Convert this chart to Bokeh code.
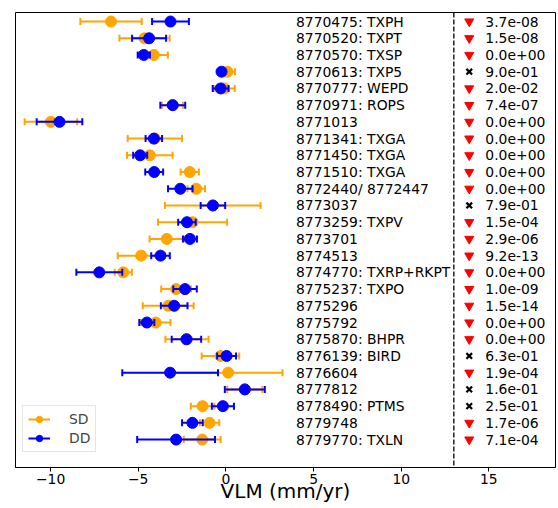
import numpy as np
from bokeh.plotting import figure
from bokeh.models import Range1d, FixedTicker, Span, Legend, LegendItem, ColumnDataSource
from bokeh.core.properties import value
from bokeh.embed import file_html
from bokeh.resources import INLINE

stations = ["8770475: TXPH", "8770520: TXPT", "8770570: TXSP", "8770613: TXP5",
            "8770777: WEPD", "8770971: ROPS", "8771013", "8771341: TXGA",
            "8771450: TXGA", "8771510: TXGA", "8772440/ 8772447", "8773037",
            "8773259: TXPV", "8773701", "8774513", "8774770: TXRP+RKPT",
            "8775237: TXPO", "8775296", "8775792", "8775870: BHPR",
            "8776139: BIRD", "8776604", "8777812", "8778490: PTMS",
            "8779748", "8779770: TXLN"]

sd_vlm = [-6.55, -4.64, -4.11, 0.09, -0.09, -3.05, -9.98, -4.05, -4.34, -2.06,
          -1.69, -0.75, -1.90, -3.37, -4.83, -5.85, -2.84, -3.29, -4.00, -2.22,
          -0.31, 0.13, 1.08, -1.33, -0.93, -1.35]
sd_err = [1.75, 1.43, 0.80, 0.43, 0.60, 0.60, 1.50, 1.55, 1.30, 0.52,
          0.50, 2.73, 1.97, 0.98, 1.34, 0.49, 0.85, 1.45, 0.84, 1.23,
          1.07, 3.10, 1.00, 0.67, 0.55, 1.05]

dd_vlm = [-3.16, -4.38, -4.68, -0.25, -0.30, -3.03, -9.49, -4.11, -4.89, -4.09,
          -2.60, -0.74, -2.22, -2.05, -3.73, -7.22, -2.33, -2.95, -4.51, -2.25,
          0.04, -3.18, 1.08, -0.17, -1.91, -2.84]
dd_err = [1.05, 0.97, 0.35, 0.15, 0.45, 0.71, 1.30, 0.47, 0.40, 0.51,
          0.70, 0.70, 0.50, 0.40, 0.53, 1.31, 0.67, 0.76, 0.43, 0.84,
          0.54, 2.73, 1.14, 0.63, 0.59, 2.22]

p_values = [3.7e-08, 1.5e-08, 0.0, 9.0e-01, 2.0e-02, 7.4e-07, 0.0, 0.0, 0.0, 0.0,
            0.0, 7.9e-01, 1.5e-04, 2.9e-06, 9.2e-13, 0.0, 1.0e-09, 1.5e-14, 0.0, 0.0,
            6.3e-01, 1.9e-04, 1.6e-01, 2.5e-01, 1.7e-06, 7.1e-04]

x_ticks = [-10, -5, 0, 5, 10, 15]
x_tick_labels = ["\u221210", "\u22125", "0", "5", "10", "15"]
x_label = "VLM (mm/yr)"

FONT = "DejaVu Sans"
ORANGE = "#FFA500"
BLUE = "#0000FF"

n = len(stations)
rows = list(range(n))

p = figure(width=556, height=506, x_range=Range1d(-12, 18.8),
           y_range=Range1d(n - 1 + 1.67, -0.54),
           output_backend="svg", toolbar_location=None, y_axis_location=None,
           min_border_left=15, min_border_right=1, min_border_top=12, min_border_bottom=39)
p.xgrid.visible = False
p.ygrid.visible = False
p.outline_line_color = "black"
p.outline_line_width = 1
p.background_fill_color = "white"

def errbars(vals, errs, color):
    lo = [v - e for v, e in zip(vals, errs)]
    hi = [v + e for v, e in zip(vals, errs)]
    src = ColumnDataSource(dict(y=rows, v=vals, lo=lo, hi=hi))
    seg = p.segment(x0="lo", x1="hi", y0="y", y1="y", source=src, line_color=color, line_width=2)
    p.scatter(x="lo", y="y", source=src, marker="dash", angle=np.pi / 2, size=7,
              line_color=color, line_width=2)
    p.scatter(x="hi", y="y", source=src, marker="dash", angle=np.pi / 2, size=7,
              line_color=color, line_width=2)
    circ = p.scatter(x="v", y="y", source=src, marker="circle", size=11,
                     fill_color=color, line_color=color)
    return seg, circ

sd_seg, sd_circ = errbars(sd_vlm, sd_err, ORANGE)
dd_seg, dd_circ = errbars(dd_vlm, dd_err, BLUE)

# station labels
p.text(x=[4] * n, y=rows, text=stations, text_baseline="middle", text_align="left",
       text_font=value(FONT), text_font_size="13.9px", text_color="black")

# separator
p.add_layout(Span(location=13, dimension="height", line_color="#222222",
                  line_dash="5 2", line_width=1.5))

# significance markers and p-values
sig_rows = [r for r, pv in zip(rows, p_values) if pv < 0.05]
ns_rows = [r for r, pv in zip(rows, p_values) if pv >= 0.05]
p.scatter(x=[13.88] * len(sig_rows), y=sig_rows, marker="inverted_triangle", size=9,
          fill_color="#FF0000", line_color="#FF0000")
p.scatter(x=[13.88] * len(ns_rows), y=ns_rows, marker="x", size=8,
          line_color="black", line_width=2.2)
p.text(x=[14.8] * n, y=rows, text=[f"{pv:.1e}" for pv in p_values],
       text_baseline="middle", text_align="left",
       text_font=value(FONT), text_font_size="13.9px", text_color="black")

# axis
ax = p.xaxis[0]
ax.ticker = FixedTicker(ticks=x_ticks)
ax.major_label_overrides = {t: l for t, l in zip(x_ticks, x_tick_labels)}
ax.minor_tick_line_color = None
ax.major_tick_in = 0
ax.major_tick_out = 4
ax.major_label_standoff = 2
ax.major_label_text_font = FONT
ax.major_label_text_font_size = "13.9px"
ax.major_label_text_color = "black"
ax.axis_line_color = "black"
ax.axis_label = x_label
ax.axis_label_text_font = FONT
ax.axis_label_text_font_size = "20px"
ax.axis_label_text_font_style = "normal"
ax.axis_label_text_color = "black"
ax.axis_label_standoff = -8

legend = Legend(items=[LegendItem(label="SD", renderers=[sd_seg, sd_circ]),
                       LegendItem(label="DD", renderers=[dd_seg, dd_circ])],
                location=(7, 15), label_text_font=FONT, label_text_font_size="13.9px",
                glyph_width=22, glyph_height=16, label_height=16, label_width=19,
                label_standoff=19, spacing=3, padding=5, margin=0,
                border_line_color="#cccccc", border_line_width=1,
                background_fill_alpha=0.8)
p.add_layout(legend)

open("out.html", "w").write(file_html(p, INLINE))
